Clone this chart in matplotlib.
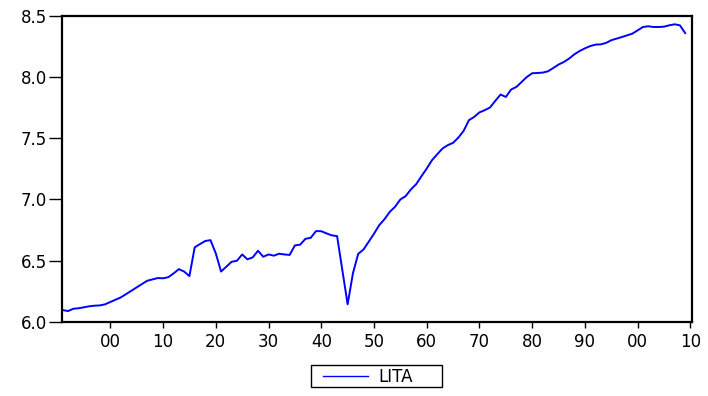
import matplotlib
matplotlib.use("Agg")
import matplotlib.pyplot as plt
from matplotlib.ticker import FixedLocator, FixedFormatter
from matplotlib.patches import Rectangle

# ---- data ----
years = list(range(1891, 2010))
lita = [
    6.095, 6.087, 6.106, 6.110, 6.118, 6.126, 6.131, 6.133, 6.142,            # 1891-1899
    6.161, 6.180, 6.199, 6.226, 6.253, 6.281, 6.308, 6.335, 6.346, 6.357,     # 1900-1909
    6.355, 6.364, 6.395, 6.430, 6.410, 6.373, 6.608, 6.635, 6.660, 6.667,     # 1910-1919
    6.559, 6.410, 6.450, 6.490, 6.498, 6.550, 6.510, 6.526, 6.580, 6.531,     # 1920-1929
    6.550, 6.540, 6.556, 6.550, 6.546, 6.624, 6.630, 6.678, 6.686, 6.741,     # 1930-1939
    6.740, 6.722, 6.706, 6.700, 6.420, 6.142, 6.395, 6.555, 6.590, 6.654,     # 1940-1949
    6.720, 6.790, 6.839, 6.899, 6.940, 7.000, 7.027, 7.082, 7.125, 7.190,     # 1950-1959
    7.253, 7.321, 7.370, 7.417, 7.444, 7.463, 7.506, 7.561, 7.648, 7.675,     # 1960-1969
    7.712, 7.730, 7.752, 7.806, 7.858, 7.838, 7.899, 7.920, 7.961, 8.002,     # 1970-1979
    8.032, 8.034, 8.037, 8.048, 8.075, 8.103, 8.124, 8.152, 8.187, 8.214,     # 1980-1989
    8.236, 8.254, 8.266, 8.268, 8.280, 8.302, 8.315, 8.328, 8.342, 8.356,     # 1990-1999
    8.383, 8.410, 8.416, 8.410, 8.410, 8.413, 8.424, 8.432, 8.424, 8.360,     # 2000-2009
]
series_name = "LITA"
x_tick_years = [1900, 1910, 1920, 1930, 1940, 1950, 1960, 1970, 1980, 1990, 2000, 2010]
x_tick_labels = ["00", "10", "20", "30", "40", "50", "60", "70", "80", "90", "00", "10"]
y_ticks = [6.0, 6.5, 7.0, 7.5, 8.0, 8.5]
y_tick_labels = ["6.0", "6.5", "7.0", "7.5", "8.0", "8.5"]

# ---- figure ----
W, H = 708, 396
fig = plt.figure(figsize=(W / 100, H / 100), dpi=100)
plt.rcParams["font.family"] = ["DejaVu Sans"]
FS = 12

ax = fig.add_axes([62 / W, 1 - 321.7 / H, (691.5 - 62) / W, (321.7 - 16) / H])
ax.plot(years, lita, color="#0000FF", lw=1.4, label=series_name)

ax.set_xlim(1890.84, 2010.2)
ax.set_ylim(6.0, 8.5)
ax.xaxis.set_major_locator(FixedLocator(x_tick_years))
ax.xaxis.set_major_formatter(FixedFormatter(x_tick_labels))
ax.yaxis.set_major_locator(FixedLocator(y_ticks))
ax.yaxis.set_major_formatter(FixedFormatter(y_tick_labels))

for s in ax.spines.values():
    s.set_linewidth(1.6)
    s.set_color("black")

ax.tick_params(axis="y", direction="out", length=9.5, width=1.0, pad=1.5,
               labelsize=FS, colors="black")
ax.tick_params(axis="x", direction="out", length=4.3, width=1.0, pad=3.5,
               labelsize=FS, colors="black")

# legend content (no frame), frame drawn as a box matching the reference
leg = fig.legend(loc="center left", bbox_to_anchor=(322.7 / W, 1 - 376.5 / H),
                 fontsize=FS, frameon=False,
                 handlelength=2.74, handletextpad=0.6, borderpad=0,
                 borderaxespad=0)
for l in leg.get_lines():
    l.set_linewidth(1.0)

box = Rectangle((311 / W, 1 - 387 / H), (442 - 311) / W, (387 - 365) / H,
                transform=fig.transFigure, fill=False, edgecolor="black",
                linewidth=1.0)
fig.patches.append(box)

fig.savefig("out.png", dpi=100)
